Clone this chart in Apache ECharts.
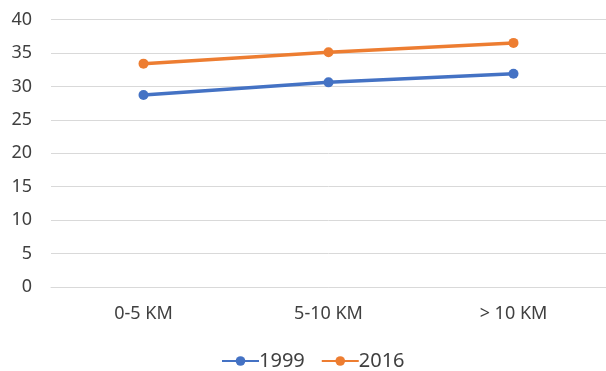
<!DOCTYPE html>
<html><head><meta charset="utf-8">
<script src="https://cdn.jsdelivr.net/npm/echarts@6/dist/echarts.min.js"></script>
<style>html,body{margin:0;padding:0;background:#fff}#c{width:606px;height:371px}</style>
</head><body><div id="c"></div>
<script>
var categories = ['0-5 KM', '5-10 KM', '> 10 KM'];
var s1999 = [28.7, 30.6, 31.9];
var s2016 = [33.4, 35.1, 36.5];
var yTicks = [0, 40, 5];
var chart = echarts.init(document.getElementById('c'));
var font = 'Noto Sans';
chart.setOption({
  animation: false,
  grid: {left: 51, right: 0, top: 19.5, bottom: 84, containLabel: false},
  xAxis: {
    type: 'category', data: categories,
    axisLine: {show: true, lineStyle: {color: '#d9d9d9', width: 1}},
    axisTick: {show: false},
    axisLabel: {color: '#404040', fontFamily: font, fontSize: 18, margin: 18}
  },
  yAxis: {
    type: 'value', min: yTicks[0], max: yTicks[1], interval: yTicks[2],
    axisLine: {show: false}, axisTick: {show: false},
    splitLine: {lineStyle: {color: '#d9d9d9', width: 1}},
    axisLabel: {color: '#404040', fontFamily: font, fontSize: 18, margin: 19}
  },
  legend: {
    top: 346, left: 216, itemWidth: 37, itemHeight: 12, itemGap: 16,
    textStyle: {color: '#404040', fontFamily: font, fontSize: 20, padding: [0,0,0,-5]}
  },
  series: [
    {name: '1999', type: 'line', data: s1999, symbol: 'circle', symbolSize: 10,
     lineStyle: {width: 3.5, color: '#4472C4'}, itemStyle: {color: '#4472C4'}},
    {name: '2016', type: 'line', data: s2016, symbol: 'circle', symbolSize: 10,
     lineStyle: {width: 3.5, color: '#ED7D31'}, itemStyle: {color: '#ED7D31'}}
  ]
});
</script></body></html>
